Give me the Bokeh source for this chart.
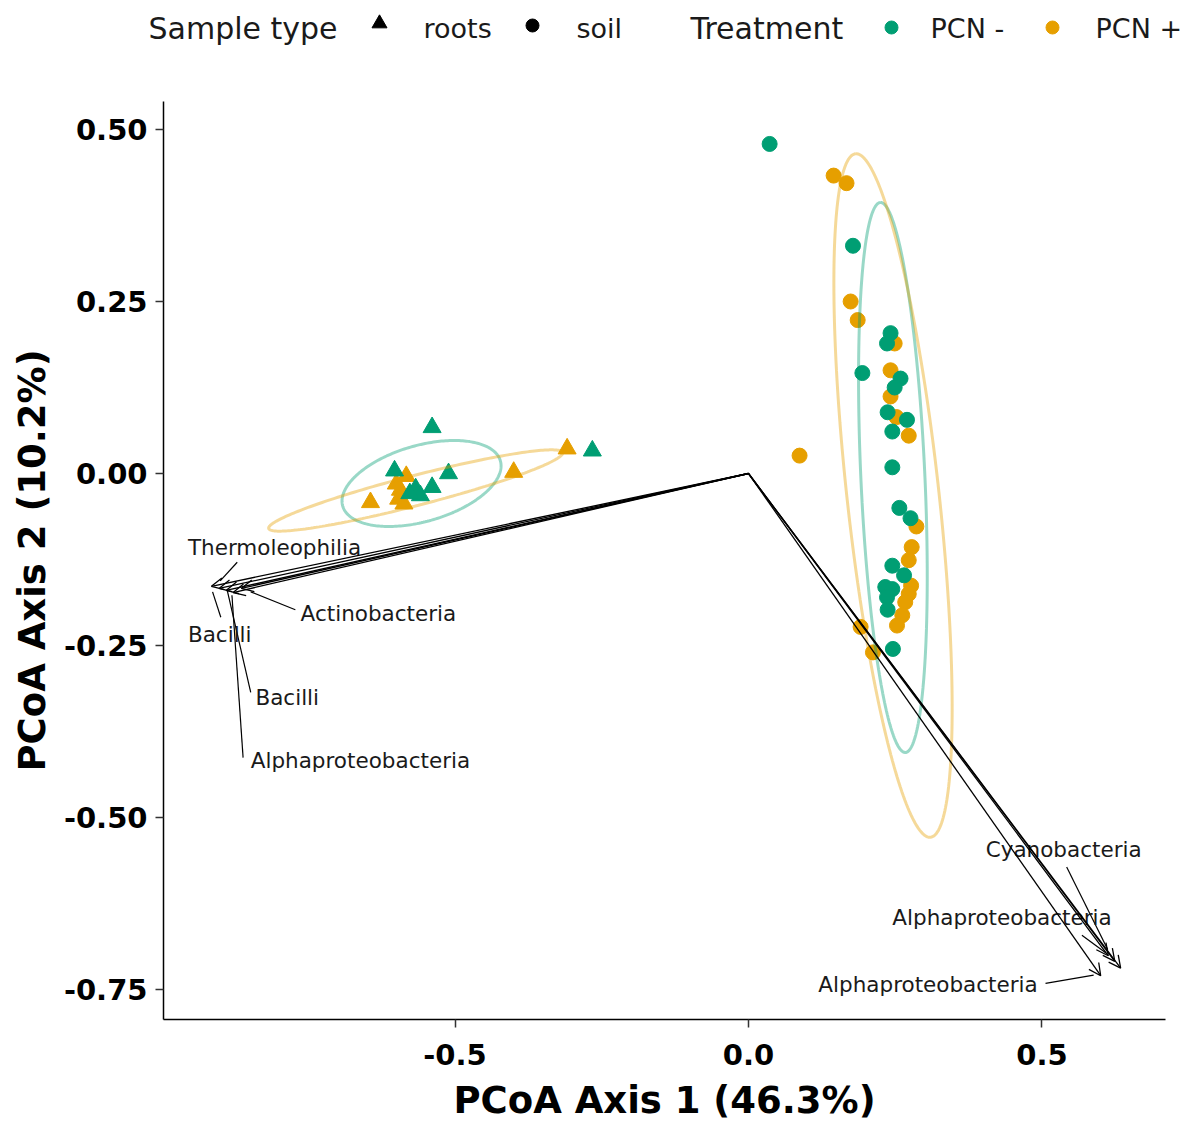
import numpy as np
from bokeh.plotting import figure
from bokeh.models import (ColumnDataSource, Range1d, Arrow, OpenHead, FixedTicker,
                          NumeralTickFormatter, LinearAxis)
from bokeh.embed import file_html
from bokeh.resources import INLINE
from bokeh.core.properties import value

# ---------------- data ----------------
GREEN = "#009E73"
ORANGE = "#E69F00"

soil_minus_x = [0.036, 0.178, 0.242, 0.236, 0.194, 0.259, 0.249, 0.237, 0.270, 0.245,
                0.245, 0.257, 0.276, 0.245, 0.265, 0.233, 0.245, 0.236, 0.237, 0.246]
soil_minus_y = [0.479, 0.331, 0.204, 0.189, 0.146, 0.138, 0.125, 0.089, 0.078, 0.061,
                0.009, -0.050, -0.065, -0.134, -0.148, -0.165, -0.168, -0.180, -0.198, -0.255]
soil_plus_x = [0.145, 0.167, 0.174, 0.186, 0.249, 0.242, 0.242, 0.252, 0.273, 0.087,
               0.286, 0.278, 0.273, 0.277, 0.273, 0.267, 0.262, 0.253, 0.191, 0.212]
soil_plus_y = [0.433, 0.422, 0.250, 0.223, 0.189, 0.150, 0.112, 0.082, 0.055, 0.026,
               -0.077, -0.107, -0.126, -0.163, -0.175, -0.187, -0.206, -0.221, -0.223, -0.260]
roots_minus_x = [-0.539, -0.266, -0.603, -0.511, -0.567, -0.539, -0.559, -0.577]
roots_minus_y = [0.067, 0.033, 0.004, 0.000, -0.022, -0.020, -0.032, -0.029]
roots_plus_x = [-0.309, -0.583, -0.400, -0.593, -0.644, -0.596, -0.587, -0.600]
roots_plus_y = [0.036, -0.004, 0.002, -0.024, -0.042, -0.037, -0.044, -0.015]

# 95% ellipses: centre, first and second semi-axis vectors (data units)
ellipse_group = ["roots PCN -", "roots PCN +", "soil PCN -", "soil PCN +"]
ellipse_color = [GREEN, ORANGE, GREEN, ORANGE]
ellipse_cx = [-0.557, -0.567, 0.246, 0.2462]
ellipse_cy = [-0.0145, -0.0247, -0.0058, -0.032]
ellipse_ax = [0.1343, 0.2504, -0.0213, -0.0639]
ellipse_ay = [0.0329, 0.0552, 0.3997, 0.4967]
ellipse_bx = [0.0179, 0.0064, 0.0545, 0.0779]
ellipse_by = [-0.0531, -0.0211, 0.0021, 0.0073]

# taxa vectors (biplot arrows from origin)
arrow_x = [-0.915, -0.902, -0.890, -0.878, -0.864, 0.634, 0.624, 0.613, 0.600]
arrow_y = [-0.164, -0.167, -0.170, -0.173, -0.167, -0.719, -0.709, -0.701, -0.730]

# repelled labels: text, left anchor, connector segment
taxa_label = ["Thermoleophilia", "Actinobacteria", "Bacilli", "Bacilli", "Alphaproteobacteria",
              "Cyanobacteria", "Alphaproteobacteria", "Alphaproteobacteria"]
label_x = [-0.955, -0.763, -0.955, -0.840, -0.848, 0.404, 0.245, 0.119]
label_y = [-0.107, -0.203, -0.234, -0.325, -0.417, -0.547, -0.645, -0.743]
seg_x0 = [-0.871, -0.772, -0.899, -0.848, -0.861, 0.542, 0.568, 0.506]
seg_y0 = [-0.129, -0.198, -0.209, -0.318, -0.413, -0.572, -0.671, -0.741]
seg_x1 = [-0.900, -0.848, -0.913, -0.888, -0.880, 0.612, 0.609, 0.588]
seg_y1 = [-0.156, -0.172, -0.172, -0.170, -0.177, -0.692, -0.697, -0.729]

x_ticks = [-0.5, 0.0, 0.5]
y_ticks = [-0.75, -0.5, -0.25, 0.0, 0.25, 0.5]
x_title = "PCoA Axis 1 (46.3%)"
y_title = "PCoA Axis 2 (10.2%)"
x_limits = (-0.9966, 0.7104)
y_limits = (-0.7936, 0.5407)

legend_titles = ["Sample type", "Treatment"]
legend_shape_labels = ["roots", "soil"]
legend_colour_labels = ["PCN -", "PCN +"]
legend_colours = [GREEN, ORANGE]

FONT = "DejaVu Sans"

# ---------------- layout (pixels) ----------------
W, H = 1181, 1122
PANEL_L, PANEL_R, PANEL_T, PANEL_B = 163, 1165, 101, 1019
ux = (x_limits[1] - x_limits[0]) / (PANEL_R - PANEL_L)
uy = (y_limits[1] - y_limits[0]) / (PANEL_B - PANEL_T)

def px_x(px):
    return x_limits[0] + (px - PANEL_L) * ux

def px_y(py):
    return y_limits[1] - (py - PANEL_T) * uy

p = figure(width=W, height=H,
           x_range=Range1d(px_x(0), px_x(W)), y_range=Range1d(px_y(H), px_y(0)),
           output_backend="svg", toolbar_location=None, title_location=None,
           x_axis_location=None, y_axis_location=None, min_border=0,
           min_border_left=0, min_border_right=0, min_border_top=0, min_border_bottom=0)
p.grid.visible = False
p.outline_line_color = None
p.background_fill_color = "white"
p.border_fill_color = "white"

# points
p.scatter(roots_plus_x, roots_plus_y, marker="triangle", size=18, color=ORANGE)
p.scatter(roots_minus_x, roots_minus_y, marker="triangle", size=18, color=GREEN)
p.scatter(soil_plus_x, soil_plus_y, marker="circle", size=15, color=ORANGE)
p.scatter(soil_minus_x, soil_minus_y, marker="circle", size=15, color=GREEN)

# ellipses (outline built from centre + semi-axis vectors)
t = np.linspace(0, 2 * np.pi, 240)
for cx, cy, ax, ay, bx, by, col in zip(ellipse_cx, ellipse_cy, ellipse_ax, ellipse_ay,
                                       ellipse_bx, ellipse_by, ellipse_color):
    ex = cx + ax * np.cos(t) + bx * np.sin(t)
    ey = cy + ay * np.cos(t) + by * np.sin(t)
    p.line(ex, ey, line_color=col, line_alpha=0.4, line_width=3)

# arrows
arrow_src = ColumnDataSource(dict(x0=[0.0] * len(arrow_x), y0=[0.0] * len(arrow_y),
                                  x1=arrow_x, y1=arrow_y))
p.add_layout(Arrow(end=OpenHead(size=12, line_width=1.3, line_color="black"),
                   x_start="x0", y_start="y0", x_end="x1", y_end="y1",
                   source=arrow_src, line_width=1.3, line_color="black"))

# label connectors and labels
p.segment(seg_x0, seg_y0, seg_x1, seg_y1, line_color="black", line_width=1.2)
p.text(label_x, label_y, text=taxa_label, text_baseline="middle", text_align="left",
       text_color="#1a1a1a", text_font=value(FONT), text_font_size="21.5px")

# ---------------- legend strip above the panel ----------------
LEG_TXT_Y = px_y(28)
p.text([px_x(148), px_x(690)], [LEG_TXT_Y] * 2, text=legend_titles,
       text_baseline="middle", text_align="left", text_color="#1a1a1a",
       text_font=value(FONT), text_font_size="30px")
p.text([px_x(423), px_x(576), px_x(930), px_x(1095)], [LEG_TXT_Y] * 4,
       text=legend_shape_labels + legend_colour_labels,
       text_baseline="middle", text_align="left", text_color="#1a1a1a",
       text_font=value(FONT), text_font_size="27px")
p.scatter([px_x(379)], [px_y(23)], marker="triangle", size=15, color="black")
p.scatter([px_x(532)], [px_y(25)], marker="circle", size=13, color="black")
p.scatter([px_x(891), px_x(1052)], [px_y(27)] * 2, marker="circle", size=13,
          color=legend_colours)

# ---------------- axes (theme_classic style) ----------------
xaxis = LinearAxis(fixed_location=y_limits[0], bounds=x_limits,
                   ticker=FixedTicker(ticks=x_ticks), formatter=NumeralTickFormatter(format="0.0"),
                   axis_label=x_title)
yaxis = LinearAxis(fixed_location=x_limits[0], bounds=y_limits,
                   ticker=FixedTicker(ticks=y_ticks), formatter=NumeralTickFormatter(format="0.00"),
                   axis_label=y_title)
p.add_layout(xaxis, "below")
p.add_layout(yaxis, "left")
for ax_ in (xaxis, yaxis):
    ax_.axis_line_color = "black"
    ax_.axis_line_width = 1.5
    ax_.major_tick_line_color = "#333333"
    ax_.major_tick_line_width = 1.5
    ax_.major_tick_out = 8
    ax_.major_tick_in = 0
    ax_.minor_tick_line_color = None
    ax_.major_label_text_font = FONT
    ax_.major_label_text_font_style = "bold"
    ax_.major_label_text_font_size = "29px"
    ax_.major_label_text_color = "black"
    ax_.axis_label_text_font = FONT
    ax_.axis_label_text_font_style = "bold"
    ax_.axis_label_text_font_size = "37px"
    ax_.axis_label_text_color = "black"
xaxis.major_label_standoff = 16
yaxis.major_label_standoff = 8
xaxis.axis_label_standoff = 11
yaxis.axis_label_standoff = 7

open("out.html", "w").write(file_html(p, INLINE))
